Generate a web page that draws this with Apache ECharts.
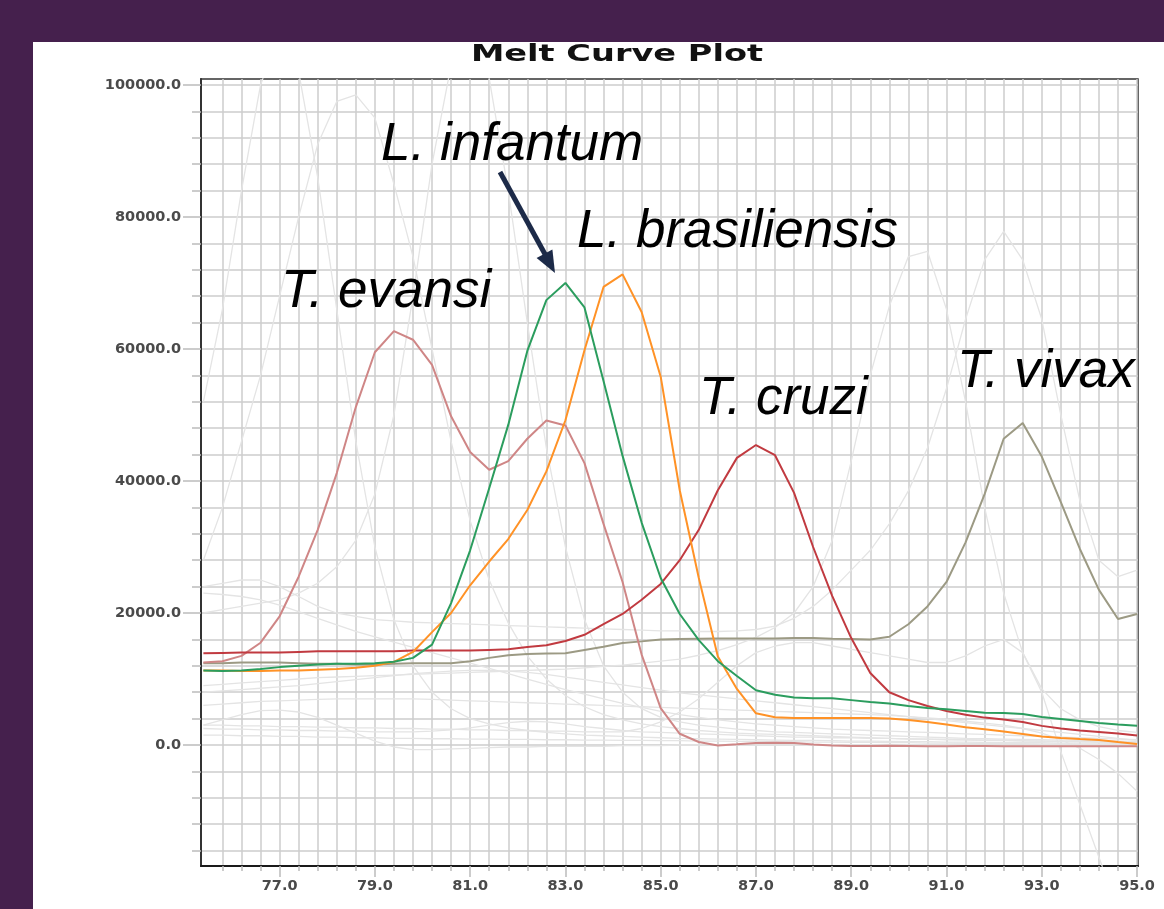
<!DOCTYPE html>
<html>
<head>
<meta charset="utf-8">
<script src="https://cdn.jsdelivr.net/npm/echarts@6/dist/echarts.min.js"></script>
<style>
  html, body { margin: 0; padding: 0; background: #fff; }
  #chart { width: 1164px; height: 909px; }
</style>
</head>
<body>
<div id="chart"></div>
<script>
// temperatures (deg C)
const temps = [75.4, 75.8, 76.2, 76.6, 77.0, 77.4, 77.8, 78.2, 78.6, 79.0,
  79.4, 79.8, 80.2, 80.6, 81.0, 81.4, 81.8, 82.2, 82.6, 83.0,
  83.4, 83.8, 84.2, 84.6, 85.0, 85.4, 85.8, 86.2, 86.6, 87.0,
  87.4, 87.8, 88.2, 88.6, 89.0, 89.4, 89.8, 90.2, 90.6, 91.0,
  91.4, 91.8, 92.2, 92.6, 93.0, 93.4, 93.8, 94.2, 94.6, 95.0];

// highlighted melt curves
const evansi = [12500, 12700, 13500, 15500, 19500, 25500, 32600, 41200, 51200, 59500,
  62700, 61400, 57600, 49800, 44400, 41700, 43000, 46400, 49150, 48400,
  42700, 33500, 24700, 13700, 5600, 1700, 450, -80, 100, 300,
  350, 300, 80, -80, -150, -150, -100, -150, -200, -200,
  -150, -150, -200, -200, -200, -200, -200, -200, -200, -200];
const infantum = [11300, 11200, 11300, 11500, 11800, 12000, 12200, 12300, 12300, 12400,
  12600, 13200, 15200, 21500, 29500, 38900, 48500, 59700, 67400, 70000,
  66300, 55150, 43800, 33700, 25300, 19850, 15900, 12700, 10450, 8300,
  7600, 7200, 7100, 7080, 6800, 6500, 6300, 5900, 5600, 5400,
  5150, 4900, 4850, 4700, 4250, 3950, 3650, 3330, 3100, 2900];
const brasiliensis = [11300, 11300, 11200, 11200, 11300, 11300, 11400, 11500, 11700, 12000,
  12600, 14100, 17100, 20000, 24200, 27800, 31200, 35600, 41450, 49200,
  59800, 69400, 71300, 65600, 55800, 38600, 25300, 13400, 8500, 4800,
  4200, 4100, 4100, 4100, 4100, 4100, 4000, 3800, 3500, 3100,
  2700, 2400, 2050, 1670, 1300, 1060, 900, 760, 450, 150];
const cruzi = [13900, 13950, 14000, 14000, 14000, 14100, 14200, 14200, 14200, 14200,
  14200, 14300, 14300, 14300, 14300, 14400, 14500, 14850, 15100, 15750,
  16700, 18300, 19850, 22000, 24400, 28000, 32600, 38600, 43500, 45450,
  43900, 38200, 30000, 22600, 16200, 10900, 8000, 6800, 5900, 5150,
  4600, 4150, 3860, 3500, 2900, 2500, 2200, 1970, 1740, 1440];
const vivax = [12400, 12400, 12500, 12500, 12500, 12400, 12300, 12300, 12200, 12200,
  12300, 12400, 12400, 12400, 12700, 13200, 13600, 13800, 13850, 13900,
  14400, 14900, 15450, 15700, 16000, 16050, 16100, 16150, 16150, 16150,
  16150, 16200, 16200, 16100, 16050, 16000, 16400, 18300, 21000, 24700,
  30700, 38000, 46400, 48800, 43700, 36800, 29700, 23500, 19100, 19850];

// faint background wells
const bg1 = [52000, 66000, 84000, 100000, 108000, 102000, 86000, 66000, 46000, 30000,
  19000, 12000, 8000, 5500, 4000, 3200, 2600, 2200, 1900, 1700,
  1500, 1400, 1300, 1200, 1100, 1000, 950, 900, 850, 800,
  750, 700, 700, 650, 600, 600, 550, 500, 500, 450,
  450, 400, 400, 350, 350, 300, 300, 300, 250, 250];
const bg2 = [28000, 36000, 46000, 56000, 68000, 80000, 91000, 97500, 98500, 95000,
  85000, 74000, 60000, 46000, 34000, 25000, 18500, 13500, 10000, 7500,
  5800, 4600, 3800, 3200, 2800, 2500, 2200, 2000, 1800, 1700,
  1600, 1500, 1400, 1300, 1200, 1100, 1000, 950, 900, 850,
  800, 750, 700, 650, 600, 550, 500, 500, 450, 400];
const bg3 = [20000, 20500, 21000, 21500, 22000, 23000, 24500, 27000, 31000, 38000,
  50000, 68000, 88000, 103000, 109000, 101000, 84000, 64000, 45000, 30000,
  19000, 12000, 8000, 5500, 4200, 3500, 3000, 2700, 2400, 2200,
  2000, 1900, 1800, 1700, 1600, 1500, 1400, 1300, 1200, 1100,
  1000, 950, 900, 850, 800, 750, 700, 650, 600, 550];
const bg4 = [9000, 9200, 9400, 9600, 9800, 10000, 10200, 10300, 10400, 10500,
  10600, 10700, 10800, 10900, 11000, 11100, 11200, 11300, 11400, 11500,
  11700, 11900, 12100, 12400, 12700, 13000, 13600, 14300, 15200, 16300,
  17800, 20000, 24000, 31000, 43000, 56000, 66500, 74000, 74800, 66000,
  52000, 36000, 23000, 14000, 8500, 5500, 3800, 2800, 2200, 1900];
const bg5 = [24000, 24500, 25000, 25000, 24000, 22500, 21000, 20000, 19500, 19000,
  18800, 18600, 18500, 18400, 18300, 18200, 18100, 18000, 17900, 17800,
  17700, 17600, 17500, 17400, 17300, 17300, 17200, 17200, 17300, 17500,
  18000, 19200, 21000, 23500, 26500, 29500, 33500, 38500, 45000, 54000,
  64500, 73500, 77800, 73500, 64500, 50000, 37000, 28000, 25500, 26500];
const bg6 = [3000, 3000, 2900, 2900, 2800, 2800, 2700, 2700, 2600, 2600,
  2500, 2500, 2400, 2400, 2300, 2300, 2200, 2200, 2100, 2100,
  2000, 2000, 2000, 2500, 3500, 5000, 7000, 9500, 12000, 14000,
  15000, 15500, 15500, 15000, 14500, 14000, 13500, 13000, 12500, 12500,
  13500, 15000, 16000, 14000, 8000, -1000, -9000, -17000, -25000, -33000];
const bg7 = [6000, 6200, 6400, 6600, 6700, 6800, 6900, 7000, 7000, 7000,
  7000, 7000, 6900, 6800, 6700, 6600, 6500, 6400, 6300, 6200,
  6100, 6000, 5900, 5800, 5700, 5600, 5500, 5400, 5300, 5200,
  5100, 5000, 4900, 4800, 4700, 4600, 4500, 4300, 4100, 3900,
  3600, 3300, 3000, 2500, 1800, 800, -500, -2200, -4300, -7000];
const bg8 = [1500, 1500, 1400, 1400, 1300, 1300, 1200, 1200, 1100, 1100,
  1000, 1000, 950, 950, 900, 900, 850, 850, 800, 800,
  750, 750, 700, 700, 650, 650, 600, 600, 550, 550,
  500, 500, 450, 450, 400, 400, 350, 350, 300, 300,
  250, 250, 200, 200, 150, 150, 100, 100, 50, 50];
const bg9 = [3000, 3800, 4600, 5200, 5300, 5000, 4200, 3000, 1800, 600,
  -300, -700, -700, -600, -500, -400, -300, -300, -200, -200,
  -200, -200, -100, -100, -100, 0, 0, 0, 0, 0,
  0, 0, 0, 0, 0, 0, 0, 0, 0, 0,
  0, 0, 0, 0, 0, 0, 0, 0, 0, 0];
const bg10 = [23000, 22800, 22500, 22000, 21200, 20200, 19200, 18200, 17200, 16400,
  15600, 14800, 14000, 13200, 12400, 11600, 10800, 10000, 9200, 8400,
  7700, 7000, 6300, 5700, 5100, 4600, 4200, 3800, 3500, 3200,
  3000, 2800, 2600, 2400, 2300, 2200, 2100, 2000, 1900, 1800,
  1700, 1600, 1500, 1400, 1300, 1200, 1100, 1000, 900, 800];
const bg11 = [2500, 2400, 2400, 2300, 2300, 2200, 2200, 2100, 2100, 2000,
  2000, 2000, 2100, 2300, 2600, 3000, 3400, 3600, 3500, 3200,
  2800, 2500, 2200, 2000, 1900, 1800, 1700, 1600, 1500, 1400,
  1300, 1200, 1200, 1100, 1100, 1000, 1000, 900, 900, 800,
  800, 700, 700, 600, 600, 500, 500, 400, 400, 300];
const bg12 = [8000, 8200, 8400, 8600, 8800, 9000, 9300, 9600, 9900, 10200,
  10500, 10800, 11000, 11200, 11300, 11300, 11200, 11000, 10700, 10300,
  9900, 9500, 9100, 8700, 8300, 7900, 7600, 7300, 7000, 6700,
  6400, 6100, 5800, 5500, 5200, 4900, 4600, 4300, 4000, 3700,
  3400, 3100, 2800, 2500, 2200, 1900, 1600, 1300, 1000, 700];

// tick labels
const xLabels = [77, 79, 81, 83, 85, 87, 89, 91, 93, 95];
const yLabels = [0, 20000, 40000, 60000, 80000, 100000];

const X_MIN = 75.35, X_MAX = 95.02;
const Y_MIN = -18330, Y_MAX = 100900;

// minor grid every 0.4 deg / 4000 units
const xMinor = [];
for (let i = 0; i < 50; i++) xMinor.push(+(75.8 + i * 0.4).toFixed(1));
const yMinor = [];
for (let v = -16000; v <= 100000; v += 4000) yMinor.push(v);

const zip = (vals) => temps.map((t, i) => [t, vals[i]]);

const grayLine = (vals) => ({
  type: 'line', data: zip(vals), showSymbol: false, silent: true, z: 2,
  lineStyle: { color: '#e4e4e4', width: 1.3 }
});
const colorLine = (name, vals, color) => ({
  name: name, type: 'line', data: zip(vals), showSymbol: false, z: 5,
  lineStyle: { color: color, width: 2 }
});

const labelFont = { fontFamily: 'DejaVu Sans', fontSize: 14.5, fontWeight: 'bold', color: '#4a4a4a' };
const tickStyle = { color: '#bcbcbc', width: 1.5 };

const chart = echarts.init(document.getElementById('chart'));

const annFont = 'italic 53px "Liberation Sans", Arial, sans-serif';
const annotation = (txt, x, y) => ({
  type: 'text', x: x, y: y, z: 100,
  style: { text: txt, font: annFont, fill: '#000', align: 'left', verticalAlign: 'middle' }
});

chart.setOption({
  animation: false,
  backgroundColor: '#fff',
  grid: {
    left: 201, top: 79, right: 26, bottom: 43,
    show: true, borderColor: '#333', borderWidth: 1.5
  },
  xAxis: [{
    type: 'value', min: X_MIN, max: X_MAX, position: 'bottom',
    axisLine: { show: true, onZero: false, lineStyle: { color: '#1a1a1a', width: 2 } },
    axisTick: { show: true, customValues: xMinor, length: 5, lineStyle: tickStyle },
    axisLabel: { show: false },
    splitLine: { show: true, lineStyle: { color: '#cdcdcd', width: 1.5 } }
  }, {
    type: 'value', min: X_MIN, max: X_MAX, position: 'bottom',
    axisLine: { show: false, onZero: false },
    axisTick: { show: true, customValues: xLabels, length: 11, lineStyle: tickStyle },
    axisLabel: Object.assign({ customValues: xLabels, margin: 13, formatter: (v) => v.toFixed(1) }, labelFont),
    splitLine: { show: false }
  }],
  yAxis: [{
    type: 'value', min: Y_MIN, max: Y_MAX, position: 'left',
    axisLine: { show: true, onZero: false, lineStyle: { color: '#333', width: 2 } },
    axisTick: { show: true, customValues: yMinor, length: 9, lineStyle: tickStyle },
    axisLabel: { show: false },
    splitLine: { show: true, lineStyle: { color: '#cdcdcd', width: 1.5 } }
  }, {
    type: 'value', min: Y_MIN, max: Y_MAX, position: 'left',
    axisLine: { show: false, onZero: false },
    axisTick: { show: true, customValues: yLabels, length: 18, lineStyle: tickStyle },
    axisLabel: Object.assign({ customValues: yLabels, margin: 20, formatter: (v) => v.toFixed(1) }, labelFont),
    splitLine: { show: false }
  }],
  series: [
    grayLine(bg1), grayLine(bg2), grayLine(bg3), grayLine(bg4), grayLine(bg5),
    grayLine(bg6), grayLine(bg7), grayLine(bg8), grayLine(bg9), grayLine(bg10),
    grayLine(bg11), grayLine(bg12),
    colorLine('T. vivax', vivax, '#9c9a84'),
    colorLine('T. evansi', evansi, '#cf8686'),
    colorLine('T. cruzi', cruzi, '#c13a40'),
    colorLine('L. brasiliensis', brasiliensis, '#ff9226'),
    colorLine('L. infantum', infantum, '#2b9d5e')
  ],
  graphic: [
    { type: 'rect', shape: { x: 0, y: 0, width: 1164, height: 42 }, style: { fill: '#45204d' }, z: 200 },
    { type: 'rect', shape: { x: 0, y: 0, width: 33, height: 909 }, style: { fill: '#45204d' }, z: 200 },
    {
      type: 'text', x: 617, y: 55, scaleX: 1.46, z: 100,
      style: { text: 'Melt Curve Plot', font: 'bold 23px "DejaVu Sans", sans-serif', fill: '#111', align: 'center', verticalAlign: 'middle' }
    },
    annotation('L. infantum', 381, 145),
    annotation('L. brasiliensis', 577, 232),
    annotation('T. evansi', 281, 292),
    annotation('T. cruzi', 699, 399),
    annotation('T. vivax', 957, 372),
    {
      type: 'line', z: 100,
      shape: { x1: 500, y1: 172, x2: 546, y2: 256 },
      style: { stroke: '#1c2a48', lineWidth: 5 }
    },
    {
      type: 'polygon', z: 100,
      shape: { points: [[555, 273], [536.6, 258], [552.4, 249.4]] },
      style: { fill: '#1c2a48' }
    }
  ]
});
</script>
</body>
</html>
